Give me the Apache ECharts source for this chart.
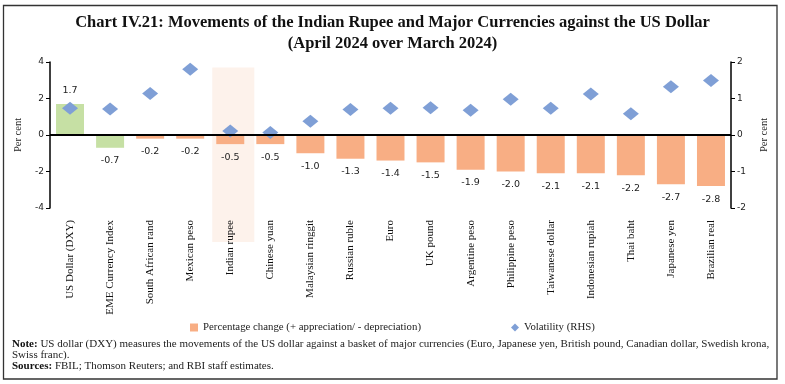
<!DOCTYPE html>
<html>
<head>
<meta charset="utf-8">
<script src="https://cdn.jsdelivr.net/npm/echarts@6/dist/echarts.min.js"></script>
<style>
html,body{margin:0;padding:0;background:#fff;}
#c{width:785px;height:384px;}
</style>
</head>
<body>
<div id="c"></div>
<script>
var categories = ['US Dollar (DXY)', 'EME Currency Index', 'South African rand', 'Mexican peso', 'Indian rupee', 'Chinese yuan', 'Malaysian ringgit', 'Russian ruble', 'Euro', 'UK pound', 'Argentine peso', 'Philippine peso', 'Taiwanese dollar', 'Indonesian rupiah', 'Thai baht', 'Japanese yen', 'Brazilian real'];
var pctChange = [1.7, -0.7, -0.2, -0.2, -0.5, -0.5, -1.0, -1.3, -1.4, -1.5, -1.9, -2.0, -2.1, -2.1, -2.2, -2.7, -2.8];
var volatility = [0.73, 0.71, 1.14, 1.80, 0.11, 0.07, 0.38, 0.70, 0.73, 0.75, 0.68, 0.98, 0.73, 1.12, 0.58, 1.32, 1.49];
var leftTicks = [-4, -2, 0, 2, 4];
var rightTicks = [-2, -1, 0, 1, 2];
var greenCategories = ['US Dollar (DXY)', 'EME Currency Index'];
var highlightCategory = 'Indian rupee';

var ORANGE = '#F8AE84', GREEN = '#C6E0A4', BLUE = '#7F9FD6';
var SERIF = 'Liberation Serif', SANS = 'DejaVu Sans';
var barName = 'Percentage change (+ appreciation/ - depreciation)';
var volName = 'Volatility (RHS)';

var chart = echarts.init(document.getElementById('c'), null, {renderer: 'canvas'});

var barData = pctChange.map(function (v, i) {
  var item = {value: v};
  if (greenCategories.indexOf(categories[i]) >= 0) item.itemStyle = {color: GREEN};
  item.label = {position: v >= 0 ? 'top' : 'bottom'};
  return item;
});

var option = {
  animation: false,
  backgroundColor: '#fff',
  title: {
    text: 'Chart IV.21: Movements of the Indian Rupee and Major Currencies against the US Dollar\n(April 2024 over March 2024)',
    left: 'center', top: 7,
    textStyle: {fontFamily: SERIF, fontSize: 16.5, fontWeight: 'bold', color: '#111', lineHeight: 21}
  },
  legend: {
    left: 185, top: 317,
    itemWidth: 8, itemHeight: 8, itemGap: 90,
    textStyle: {fontFamily: SERIF, fontSize: 10.8, color: '#222'},
    data: [{name: barName, icon: 'rect'}, {name: volName, icon: 'diamond'}]
  },
  grid: {left: 50, right: 54, top: 62, bottom: 176, containLabel: false},
  xAxis: {
    type: 'category', data: categories, boundaryGap: true,
    axisLine: {show: false}, axisTick: {show: false},
    axisLabel: {rotate: 90, margin: 12, interval: 0, fontFamily: SERIF, fontSize: 11, color: '#111'}
  },
  yAxis: [{
    type: 'value', min: leftTicks[0], max: leftTicks[leftTicks.length - 1], interval: 2,
    name: 'Per cent', nameLocation: 'middle', nameGap: 26, nameRotate: 90,
    nameTextStyle: {fontFamily: SERIF, fontSize: 10.5, color: '#222'},
    axisLine: {show: true, lineStyle: {color: '#000', width: 1.5}},
    axisTick: {show: true, length: 4, lineStyle: {color: '#000'}},
    axisLabel: {margin: 6, fontFamily: SANS, fontSize: 9, color: '#222'},
    splitLine: {show: false}
  }, {
    type: 'value', min: rightTicks[0], max: rightTicks[rightTicks.length - 1], interval: 1,
    name: 'Per cent', nameLocation: 'middle', nameGap: 28, nameRotate: 90,
    nameTextStyle: {fontFamily: SERIF, fontSize: 10.5, color: '#222'},
    axisLine: {show: true, lineStyle: {color: '#000', width: 1.5}},
    axisTick: {show: true, length: 4, lineStyle: {color: '#000'}},
    axisLabel: {margin: 6, fontFamily: SANS, fontSize: 9, color: '#222'},
    splitLine: {show: false}
  }],
  series: [{
    name: barName, type: 'bar', yAxisIndex: 0, barWidth: 28,
    itemStyle: {color: ORANGE},
    data: barData,
    label: {show: true, distance: 8, fontFamily: SANS, fontSize: 9.5, color: '#222',
      formatter: function (p) { return p.value.toFixed(1); }},
    markLine: {
      silent: true, symbol: 'none', label: {show: false},
      lineStyle: {color: '#000', width: 2, type: 'solid'},
      data: [{yAxis: 0}]
    },
    z: 2
  }, {
    name: volName, type: 'scatter', yAxisIndex: 1, symbol: 'diamond', symbolSize: [16, 13],
    itemStyle: {color: BLUE, opacity: 1},
    data: volatility, z: 4
  }]
};
chart.setOption(option);

var cx = chart.convertToPixel({xAxisIndex: 0}, highlightCategory);
var yTop = chart.convertToPixel({yAxisIndex: 0}, 3.7);
var yBot = chart.convertToPixel({yAxisIndex: 0}, -4) + 34;
chart.setOption({
  graphic: [{
    type: 'rect', z: -1, silent: true,
    shape: {x: cx - 18, y: yTop, width: 42, height: yBot - yTop},
    style: {fill: 'rgba(252,232,218,0.55)'}
  }, {
    type: 'rect', silent: true,
    shape: {x: 3.5, y: 5.5, width: 773.5, height: 373.5},
    style: {fill: 'none', stroke: '#333', lineWidth: 1.3}
  }, {
    type: 'text', left: 12, top: 339, silent: true,
    style: {
      text: '{b|Note:} US dollar (DXY) measures the movements of the US dollar against a basket of major currencies (Euro, Japanese yen, British pound, Canadian dollar, Swedish krona,\nSwiss franc).\n{b|Sources:} FBIL; Thomson Reuters; and RBI staff estimates.',
      fontFamily: SERIF, fontSize: 11, fill: '#222', lineHeight: 11,
      rich: {b: {fontFamily: SERIF, fontSize: 11, fontWeight: 'bold', fill: '#111', lineHeight: 11}}
    }
  }]
});
</script>
</body>
</html>
